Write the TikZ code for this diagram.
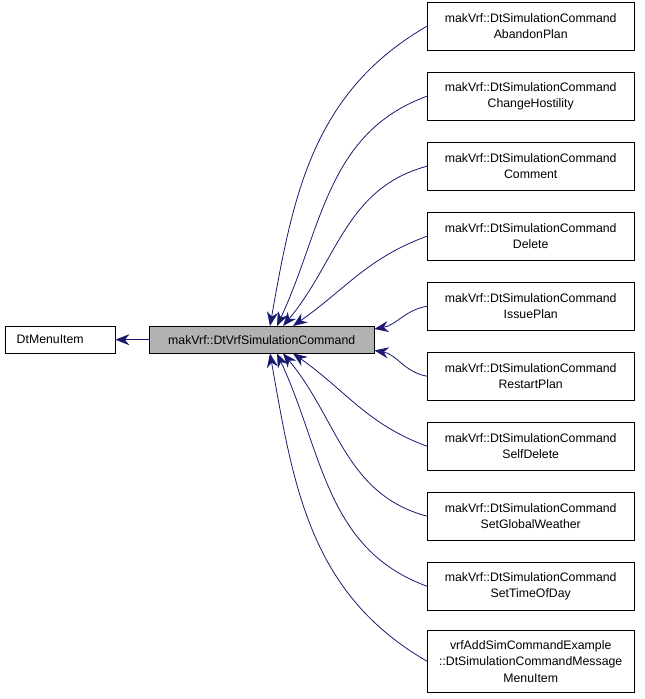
\documentclass[tikz,border=0pt]{standalone}
\usepackage{fontspec}
\setmainfont{Liberation Sans}
\usetikzlibrary{arrows.meta}
\definecolor{edgeblue}{HTML}{191970}
\tikzset{
  box/.style={draw=black, fill=white, minimum height=27pt, inner sep=2pt, font=\fontsize{12.3}{16.5}\selectfont, align=center},
  rbox/.style={box, minimum width=207pt, minimum height=48pt},
  edge/.style={draw=edgeblue, line width=0.8pt, {Stealth[length=14pt,width=11pt,fill=edgeblue]}-}
}
\begin{document}
\begin{tikzpicture}[x=1pt,y=-1pt]
\useasboundingbox (0,0) rectangle (645,699);
\node[box, minimum width=110pt, anchor=north west, align=left] (m) at (5,326) {DtMenuItem\hspace*{20pt}};
\node[box, minimum width=225pt, fill=black!30, anchor=north west] (c) at (149,326) {makVrf::DtVrfSimulationCommand};
\foreach \n/\y/\t in {a/2/AbandonPlan, b/72/ChangeHostility, d/142/Comment, e/212/Delete, f/282/IssuePlan, g/352/RestartPlan, h/422/SelfDelete, i/492/SetGlobalWeather, j/562/SetTimeOfDay}
  \node[rbox, anchor=north west] (\n) at (427,\y) {makVrf::DtSimulationCommand\\\t};
\node[rbox, minimum height=62pt, anchor=north west] (k) at (427,630) {vrfAddSimCommandExample\\::DtSimulationCommandMessage\\MenuItem};
\draw[edge] (m.east) -- (c.west);
\draw[edge] ([xshift=121pt]c.north west) to[out=80,in=210] (a.west);
\draw[edge] ([xshift=128pt]c.north west) to[out=65,in=200] (b.west);
\draw[edge] ([xshift=134pt]c.north west) to[out=50,in=195] (d.west);
\draw[edge] ([xshift=144pt]c.north west) to[out=35,in=200] (e.west);
\draw[edge] ([yshift=-3pt]c.north east) to[out=10,in=190] (f.west);
\draw[edge] ([yshift=3pt]c.south east) to[out=-10,in=170] (g.west);
\draw[edge] ([xshift=144pt]c.south west) to[out=-35,in=160] (h.west);
\draw[edge] ([xshift=134pt]c.south west) to[out=-50,in=165] (i.west);
\draw[edge] ([xshift=128pt]c.south west) to[out=-65,in=160] (j.west);
\draw[edge] ([xshift=121pt]c.south west) to[out=-80,in=150] (k.west);
\end{tikzpicture}
\end{document}
